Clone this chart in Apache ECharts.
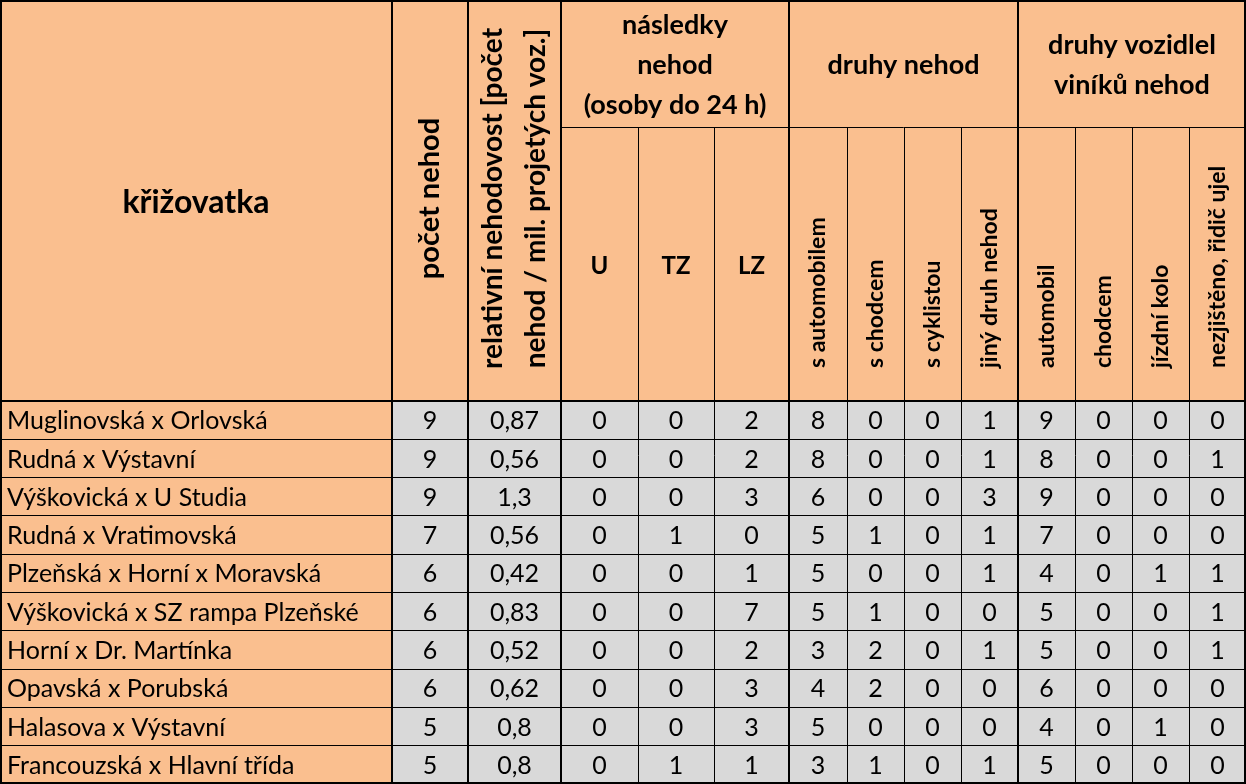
<!DOCTYPE html>
<html><head><meta charset="utf-8">
<script src="https://cdn.jsdelivr.net/npm/echarts@6/dist/echarts.min.js"></script>
<style>html,body{margin:0;padding:0;background:#fff}#c{width:1246px;height:784px}</style>
</head><body><div id="c"></div>
<script>
// ---------- DATA ----------
const intersections = ['Muglinovská x Orlovská','Rudná x Výstavní','Výškovická x U Studia','Rudná x Vratimovská','Plzeňská x Horní x Moravská','Výškovická x SZ rampa Plzeňské','Horní x Dr. Martínka','Opavská x Porubská','Halasova x Výstavní','Francouzská x Hlavní třída'];
const pocetNehod   = [9, 9, 9, 7, 6, 6, 6, 6, 5, 5];
const relNehodovost= [0.87, 0.56, 1.3, 0.56, 0.42, 0.83, 0.52, 0.62, 0.8, 0.8];
const usmrceni     = [0, 0, 0, 0, 0, 0, 0, 0, 0, 0];
const tezceZraneni = [0, 0, 0, 1, 0, 0, 0, 0, 0, 1];
const lehceZraneni = [2, 2, 3, 0, 1, 7, 2, 3, 3, 1];
const sAutomobilem = [8, 8, 6, 5, 5, 5, 3, 4, 5, 3];
const sChodcem     = [0, 0, 0, 1, 0, 1, 2, 2, 0, 1];
const sCyklistou   = [0, 0, 0, 0, 0, 0, 0, 0, 0, 0];
const jinyDruh     = [1, 1, 3, 1, 1, 0, 1, 0, 0, 1];
const vinAutomobil = [9, 8, 9, 7, 4, 5, 5, 6, 4, 5];
const vinChodec    = [0, 0, 0, 0, 0, 0, 0, 0, 0, 0];
const vinKolo      = [0, 0, 0, 0, 1, 0, 0, 0, 1, 0];
const vinNezjisteno= [0, 1, 0, 0, 1, 1, 1, 0, 0, 0];

const cornerTitle = 'křižovatka';
const columnTitles = ['počet nehod', 'relativní nehodovost [počet\nnehod / mil. projetých voz.]',
  'U', 'TZ', 'LZ', 's automobilem', 's chodcem', 's cyklistou', 'jiný druh nehod',
  'automobil', 'chodcem', 'jízdní kolo', 'nezjištěno, řidič ujel'];
const groupTitles = ['následky\nnehod\n(osoby do 24 h)', 'druhy nehod', 'druhy vozidlel\nviníků nehod'];

// ---------- LAYOUT ----------
const W = 1246, H = 784, HEAD = 401, HEAD_TOP = 127;
const COLW = [392, 76, 93, 77, 76, 75, 58, 57, 57, 57, 57, 57, 57, 57];
const EDGES = [0]; COLW.forEach(w => EDGES.push(EDGES[EDGES.length-1] + w));
const ORANGE = '#FABF8F', GRAY = '#D9D9D9';
const FONT = 'Lato, "Open Sans", sans-serif';
const DATA_SIZE = 25, VB_PAD = 33;

const valueCols = [pocetNehod, relNehodovost.map(v => String(v).replace('.', ',')), usmrceni, tezceZraneni, lehceZraneni,
  sAutomobilem, sChodcem, sCyklistou, jinyDruh, vinAutomobil, vinChodec, vinKolo, vinNezjisteno];

// header cells: column span [c0,c1), header row span [r0,r1), kind
const headRows = [0, HEAD_TOP, HEAD];
const headerCells = [
  {c0:0,c1:1,r0:0,r1:2,text:cornerTitle,kind:'h',size:32},
  {c0:1,c1:2,r0:0,r1:2,text:columnTitles[0],kind:'vc',size:29},
  {c0:2,c1:3,r0:0,r1:2,text:columnTitles[1],kind:'vc',size:28},
  {c0:3,c1:6,r0:0,r1:1,text:groupTitles[0],kind:'h',size:27},
  {c0:6,c1:10,r0:0,r1:1,text:groupTitles[1],kind:'h',size:27},
  {c0:10,c1:14,r0:0,r1:1,text:groupTitles[2],kind:'h',size:27},
];
for (let i = 2; i < columnTitles.length; i++) {
  headerCells.push({c0:i+1,c1:i+2,r0:1,r1:2,text:columnTitles[i],kind: i < 5 ? 'h' : 'vb', size: i < 5 ? 24 : 23});
}

// data cells
const dataCells = [];
intersections.forEach((name, r) => {
  dataCells.push({c:0, r, text:name});
  valueCols.forEach((col, k) => dataCells.push({c:k+1, r, text:String(col[r])}));
});

// lines (layout): vertical edges and horizontal header lines
const vLines = [];
EDGES.forEach((x, i) => {
  const major = [0,1,2,3,6,10,14].indexOf(i) >= 0;
  vLines.push({x: i===0 ? 1 : (i===14 ? W-1 : x), y0: major ? 0 : HEAD_TOP, y1: H, w: major ? 2 : 1});
});
const hLines = [
  {y:1, x0:0, x1:W, w:2},
  {y:HEAD_TOP, x0:EDGES[3], x1:W, w:1},
  {y:HEAD, x0:0, x1:W, w:2},
  {y:H-1, x0:0, x1:W, w:2}
];

const chart = echarts.init(document.getElementById('c'), null, {renderer:'canvas'});

function snap(v, w) { return w % 2 === 1 ? Math.round(v - 0.5) + 0.5 : Math.round(v); }

chart.setOption({
  animation: false,
  grid: [
    {left:0, right:0, top:0, bottom:0},
    {left:0, right:0, top:HEAD, bottom:0}
  ],
  xAxis: [
    {type:'value', min:0, max:W, show:false, gridIndex:0},
    {type:'value', min:0, max:W, show:false, gridIndex:1}
  ],
  yAxis: [
    {type:'value', min:0, max:H, inverse:true, show:false, gridIndex:0},
    {type:'category', data:intersections, inverse:true, show:false, gridIndex:1}
  ],
  series: [
    { // data cells
      type:'custom', xAxisIndex:1, yAxisIndex:1, clip:false, silent:true,
      data: dataCells.map(d => [d.c, d.r]),
      renderItem: function(params, api) {
        const d = dataCells[params.dataIndex];
        const bandH = api.size([0, 1])[1];
        const ctr = api.coord([EDGES[d.c], d.r]);
        const x0 = ctr[0], x1 = api.coord([EDGES[d.c+1], d.r])[0];
        const y0 = ctr[1] - bandH/2;
        const children = [
          {type:'rect', shape:{x:x0, y:y0, width:x1-x0, height:bandH}, style:{fill: d.c === 0 ? ORANGE : GRAY}},
          {type:'line', shape:{x1:x0, y1:snap(y0,1), x2:x1, y2:snap(y0,1)}, style:{stroke:'#000', lineWidth:1}, z2:5},
          {type:'text', x: d.c === 0 ? x0 + 7 : (x0+x1)/2, y: ctr[1] + 1, z2:10,
            style:{text:d.text, fill:'#000', font:DATA_SIZE + 'px ' + FONT, align: d.c === 0 ? 'left' : 'center', verticalAlign:'middle'}}
        ];
        return {type:'group', children};
      }
    },
    { // header cells
      type:'custom', xAxisIndex:0, yAxisIndex:0, clip:false, silent:true,
      data: headerCells.map((h, i) => [h.c0, h.r0]),
      renderItem: function(params, api) {
        const h = headerCells[params.dataIndex];
        const p0 = api.coord([EDGES[h.c0], headRows[h.r0]]);
        const p1 = api.coord([EDGES[h.c1], headRows[h.r1]]);
        const cx = (p0[0]+p1[0])/2, cy = (p0[1]+p1[1])/2;
        const font = 'bold ' + h.size + 'px ' + FONT;
        let txt;
        if (h.kind === 'h') {
          txt = {type:'text', x:cx, y:cy + 2, z2:10, style:{text:h.text, fill:'#000', font, align:'center', verticalAlign:'middle', lineHeight:40}};
        } else if (h.kind === 'vc') {
          txt = {type:'text', x:cx, y:cy - 2, rotation:Math.PI/2, z2:10, style:{text:h.text, fill:'#000', font, align:'center', verticalAlign:'middle', lineHeight:43}};
        } else {
          txt = {type:'text', x:cx, y:p1[1]-VB_PAD, rotation:Math.PI/2, z2:10, style:{text:h.text, fill:'#000', font, align:'left', verticalAlign:'middle'}};
        }
        return {type:'group', children:[
          {type:'rect', shape:{x:p0[0], y:p0[1], width:p1[0]-p0[0], height:p1[1]-p0[1]}, style:{fill:ORANGE}},
          txt
        ]};
      }
    },
    { // grid lines
      type:'custom', xAxisIndex:0, yAxisIndex:0, clip:false, silent:true, z:5,
      data: vLines.map((v, i) => [i]).concat(hLines.map((v, i) => [vLines.length + i])),
      renderItem: function(params, api) {
        const i = params.dataIndex;
        if (i < vLines.length) {
          const v = vLines[i];
          const a = api.coord([v.x, v.y0]), b = api.coord([v.x, v.y1]);
          const x = snap(a[0], v.w);
          return {type:'line', shape:{x1:x, y1:a[1], x2:x, y2:b[1]}, style:{stroke:'#000', lineWidth:v.w}};
        }
        const hl = hLines[i - vLines.length];
        const a = api.coord([hl.x0, hl.y]), b = api.coord([hl.x1, hl.y]);
        const y = snap(a[1], hl.w);
        return {type:'line', shape:{x1:a[0], y1:y, x2:b[0], y2:y}, style:{stroke:'#000', lineWidth:hl.w}};
      }
    }
  ]
});
</script>
</body></html>
